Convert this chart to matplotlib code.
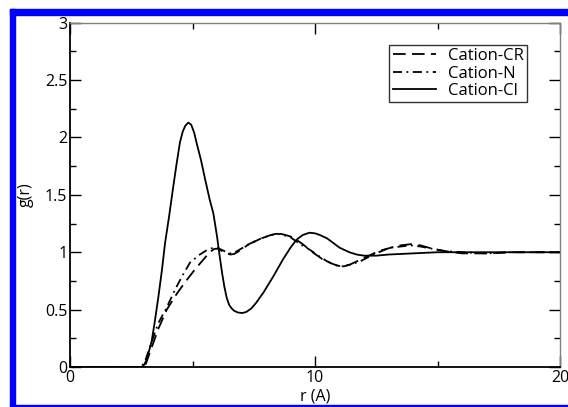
import matplotlib
matplotlib.use("Agg")
import matplotlib.pyplot as plt
from matplotlib.patches import Rectangle
from matplotlib.ticker import MultipleLocator

# ---- data ----
r_cl = [0, 2.9, 3.0, 3.1, 3.2, 3.33, 3.45, 3.6, 3.75, 3.88, 4.05, 4.2, 4.35, 4.49, 4.6, 4.7,
        4.83, 4.95, 5.07, 5.17, 5.35, 5.5, 5.7, 5.85, 6.0, 6.1, 6.2, 6.3, 6.4, 6.5, 6.6, 6.7,
        6.85, 7.03, 7.2, 7.4, 7.6, 7.9, 8.3, 8.7, 9.0, 9.25, 9.5, 9.77, 10.0, 10.2, 10.5,
        10.75, 11.0, 11.4, 11.7, 12.0, 12.5, 13.0, 14.0, 15.0, 16, 18, 20]
g_cl = [0, 0, 0.01, 0.05, 0.12, 0.22, 0.38, 0.6, 0.84, 1.08, 1.32, 1.55, 1.77, 1.96, 2.05, 2.1,
        2.13, 2.11, 2.04, 1.95, 1.80, 1.65, 1.46, 1.34, 1.14, 0.98, 0.83, 0.70, 0.60, 0.54, 0.51, 0.49,
        0.475, 0.47, 0.48, 0.51, 0.56, 0.65, 0.79, 0.94, 1.04, 1.11, 1.15, 1.17, 1.165, 1.15, 1.12,
        1.08, 1.04, 1.0, 0.98, 0.97, 0.97, 0.98, 0.99, 1.0, 1.0, 1.0, 1.0]

r_cr = [0, 2.95, 3.1, 3.3, 3.6, 3.95, 4.3, 4.7, 5.1, 5.5, 5.7, 5.9, 6.05, 6.2, 6.4, 6.55, 6.7,
        6.9, 7.3, 7.8, 8.2, 8.45, 8.6, 8.8, 9.1, 9.5, 9.9, 10.3, 10.7, 10.9, 11.0, 11.15, 11.4,
        11.8, 12.2, 12.6, 13.1, 13.5, 13.9, 14.3, 14.8, 15.3, 16, 17, 18, 19, 20]
g_cr = [0, 0, 0.03, 0.15, 0.33, 0.50, 0.62, 0.74, 0.85, 0.95, 1.0, 1.03, 1.03, 1.01, 0.99, 0.98, 0.985,
        1.01, 1.07, 1.12, 1.15, 1.16, 1.16, 1.15, 1.13, 1.07, 1.00, 0.94, 0.90, 0.885, 0.88, 0.882, 0.89,
        0.93, 0.97, 1.01, 1.04, 1.06, 1.07, 1.06, 1.03, 1.01, 0.99, 0.99, 1.0, 1.0, 1.0]

r_n = [0, 2.9, 3.05, 3.3, 3.6, 3.95, 4.3, 4.6, 4.9, 5.3, 5.6, 5.85, 6.0, 6.2, 6.4, 6.55, 6.7,
       6.9, 7.3, 7.8, 8.2, 8.4, 8.5, 8.7, 9.0, 9.4, 9.8, 10.2, 10.5, 10.8, 11.0, 11.2, 11.4,
       11.84, 12.2, 12.6, 13.06, 13.5, 13.9, 14.3, 14.8, 15.3, 16, 17, 18, 19, 20]
g_n = [0, 0, 0.04, 0.2, 0.38, 0.52, 0.68, 0.80, 0.91, 0.98, 1.02, 1.04, 1.04, 1.02, 1.0, 0.99, 0.995,
       1.02, 1.07, 1.12, 1.15, 1.16, 1.16, 1.15, 1.13, 1.07, 1.02, 0.96, 0.92, 0.89, 0.876, 0.878, 0.89,
       0.92, 0.96, 1.0, 1.04, 1.05, 1.06, 1.05, 1.03, 1.01, 1.0, 0.99, 1.0, 1.0, 1.0]

labels = ["Cation-CR", "Cation-N", "Cation-Cl"]
x_ticks = [0, 10, 20]
y_ticks = [0, 0.5, 1, 1.5, 2, 2.5, 3]
y_ticklabels = ["0", "0.5", "1", "1.5", "2", "2.5", "3"]

plt.rcParams['font.family'] = ['Open Sans', 'DejaVu Sans']

W, H = 568, 407
fig = plt.figure(figsize=(W / 100, H / 100), dpi=100)
ax = fig.add_axes([70 / W, (H - 367) / H, (560 - 70) / W, (367 - 22.7) / H])

lw = 1.3
ax.plot(r_cr, g_cr, color='black', lw=lw, dashes=(7, 3.5), label=labels[0])
ax.plot(r_n, g_n, color='black', lw=lw, dashes=(5, 2.5, 1, 2.5), label=labels[1])
ax.plot(r_cl, g_cl, color='black', lw=lw, label=labels[2])

ax.set_xlim(0, 20)
ax.set_ylim(0, 3)
ax.set_xticks(x_ticks)
ax.set_xticklabels([str(v) for v in x_ticks])
ax.set_yticks(y_ticks)
ax.set_yticklabels(y_ticklabels)
ax.xaxis.set_minor_locator(MultipleLocator(5))
ax.yaxis.set_minor_locator(MultipleLocator(0.25))
ax.tick_params(which='both', direction='in', top=True, right=True,
               labelsize=11.5, pad=2, width=1.0, color='black')
ax.tick_params(which='major', length=8)
ax.tick_params(which='minor', length=4.5)
for s in ['top', 'right']:
    ax.spines[s].set_color('#808080')
    ax.spines[s].set_linewidth(1.0)
for s in ['left', 'bottom']:
    ax.spines[s].set_linewidth(1.3)

ax.set_xlabel("r (A)", fontsize=11.5, labelpad=2)
ax.set_ylabel("g(r)", fontsize=11.5, labelpad=8)

leg = ax.legend(loc='upper right', bbox_to_anchor=((527 - 70) / 490, (367 - 45) / 344.3),
                fontsize=12, frameon=True, fancybox=False, handlelength=2.6,
                borderpad=0.2, labelspacing=0.08, handletextpad=0.7, borderaxespad=0)
leg.get_frame().set_edgecolor('black')
leg.get_frame().set_linewidth(1.0)

# blue frame
blue = '#0000ff'
fig.patches.append(Rectangle((10 / W, (H - 406) / H), 5.5 / W, 397 / H,
                             transform=fig.transFigure, color=blue, zorder=5))
fig.patches.append(Rectangle((10 / W, (H - 14.5) / H), (W - 10) / W, 5.5 / H,
                             transform=fig.transFigure, color=blue, zorder=5))
fig.patches.append(Rectangle((10 / W, (H - 406.5) / H), (W - 10) / W, 1.8 / H,
                             transform=fig.transFigure, color=blue, zorder=5))

fig.savefig("out.png", dpi=100)
